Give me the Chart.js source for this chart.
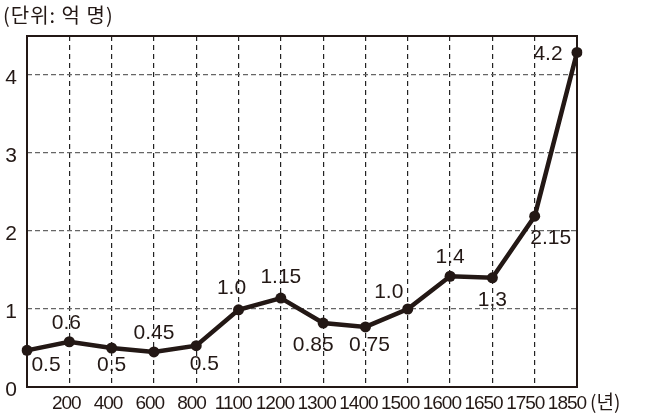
<!DOCTYPE html>
<html>
<head>
<meta charset="utf-8">
<script src="https://cdn.jsdelivr.net/npm/chart.js@4"></script>
<style>
  body { margin: 0; background: #fff; }
  #wrap { width: 647px; height: 420px; }
</style>
</head>
<body>
<div id="wrap"><canvas id="chart" width="647" height="420"></canvas></div>
<script>
// 연도 (첫 점은 눈금 없음)
const years = ['', '200', '400', '600', '800', '1100', '1200', '1300', '1400', '1500', '1600', '1650', '1750', '1850'];
// 그림에서 읽은 점의 위치 (억 명)
const population = [0.47, 0.58, 0.5, 0.45, 0.53, 0.99, 1.14, 0.82, 0.77, 1.0, 1.42, 1.4, 2.19, 4.29];
// 점 옆에 적힌 값
const valueLabels = ['0.5', '0.6', '0.5', '0.45', '0.5', '1.0', '1.15', '0.85', '0.75', '1.0', '1.4', '1.3', '2.15', '4.2'];
const yTicks = [0, 1, 2, 3, 4];

// label placement relative to the point
const labelOffsets = [[19, 15], [-3, -19], [0, 17], [0, -19], [8, 19], [-7, -22], [0, -21], [-10, 22], [4, 18], [-19, -17], [0, -19], [0, 22], [16, 22], [-29, 2]];

const ink = '#231815';
const labelFont = '21px "Liberation Sans", Arial, sans-serif';

const decor = {
  id: 'decor',
  afterDraw(c) {
    const ctx = c.ctx;
    const a = c.chartArea;
    const xs = c.scales.x;
    const ys = c.scales.y;
    ctx.save();
    // frame
    ctx.strokeStyle = ink;
    ctx.lineWidth = 2;
    ctx.strokeRect(a.left, a.top, a.right - a.left, a.bottom - a.top);

    ctx.fillStyle = ink;
    ctx.textBaseline = 'middle';
    // x ticks (the printed labels drift a little left of their grid lines)
    ctx.font = '19px "Liberation Sans", Arial, sans-serif';
    ctx.letterSpacing = '-1px';
    ctx.textAlign = 'center';
    years.forEach((y, i) => {
      if (!y) return;
      const shift = -3 - 7 * (i - 1) / 12;
      ctx.fillText(y, xs.getPixelForValue(i) + shift, 404);
    });
    ctx.letterSpacing = '0px';
    ctx.font = '19px "Noto Sans CJK KR", sans-serif';
    ctx.textAlign = 'left';
    ctx.fillText('(년)', 590, 402);

    // y ticks
    ctx.font = labelFont;
    ctx.textAlign = 'center';
    yTicks.forEach(v => ctx.fillText(String(v), 11, ys.getPixelForValue(v) + 3));

    // value labels
    const meta = c.getDatasetMeta(0);
    meta.data.forEach((pt, i) => {
      const [dx, dy] = labelOffsets[i];
      ctx.fillText(valueLabels[i], pt.x + dx, pt.y + dy);
    });

    // unit
    ctx.font = '20px "Noto Sans CJK KR", sans-serif';
    ctx.letterSpacing = '1px';
    ctx.textAlign = 'left';
    ctx.fillText('(단위: 억 명)', 3, 15);
    ctx.restore();
  }
};

new Chart(document.getElementById('chart'), {
  type: 'line',
  data: {
    labels: years,
    datasets: [{
      data: population,
      borderColor: ink,
      backgroundColor: ink,
      borderWidth: 4.5,
      pointRadius: 5.5,
      pointBackgroundColor: ink,
      pointBorderWidth: 0,
      tension: 0
    }]
  },
  options: {
    responsive: false,
    animation: false,
    layout: { padding: { left: 27, right: 70, top: 36, bottom: 33 } },
    plugins: { legend: { display: false }, tooltip: { enabled: false } },
    scales: {
      x: {
        offset: false,
        ticks: { display: false },
        border: { display: false, dash: [5, 4] },
        grid: {
          drawTicks: false,
          lineWidth: 1.2,
          color: ctx => (ctx.index === 0 || ctx.index === years.length - 1) ? 'rgba(0,0,0,0)' : '#222'
        }
      },
      y: {
        min: 0,
        max: 4.5,
        ticks: { display: false, stepSize: 1 },
        border: { display: false, dash: [5, 3] },
        grid: {
          drawTicks: false,
          lineWidth: 1.2,
          color: ctx => (ctx.tick.value === 0 || ctx.tick.value > 4) ? 'rgba(0,0,0,0)' : '#666'
        }
      }
    }
  },
  plugins: [decor]
});
</script>
</body>
</html>
